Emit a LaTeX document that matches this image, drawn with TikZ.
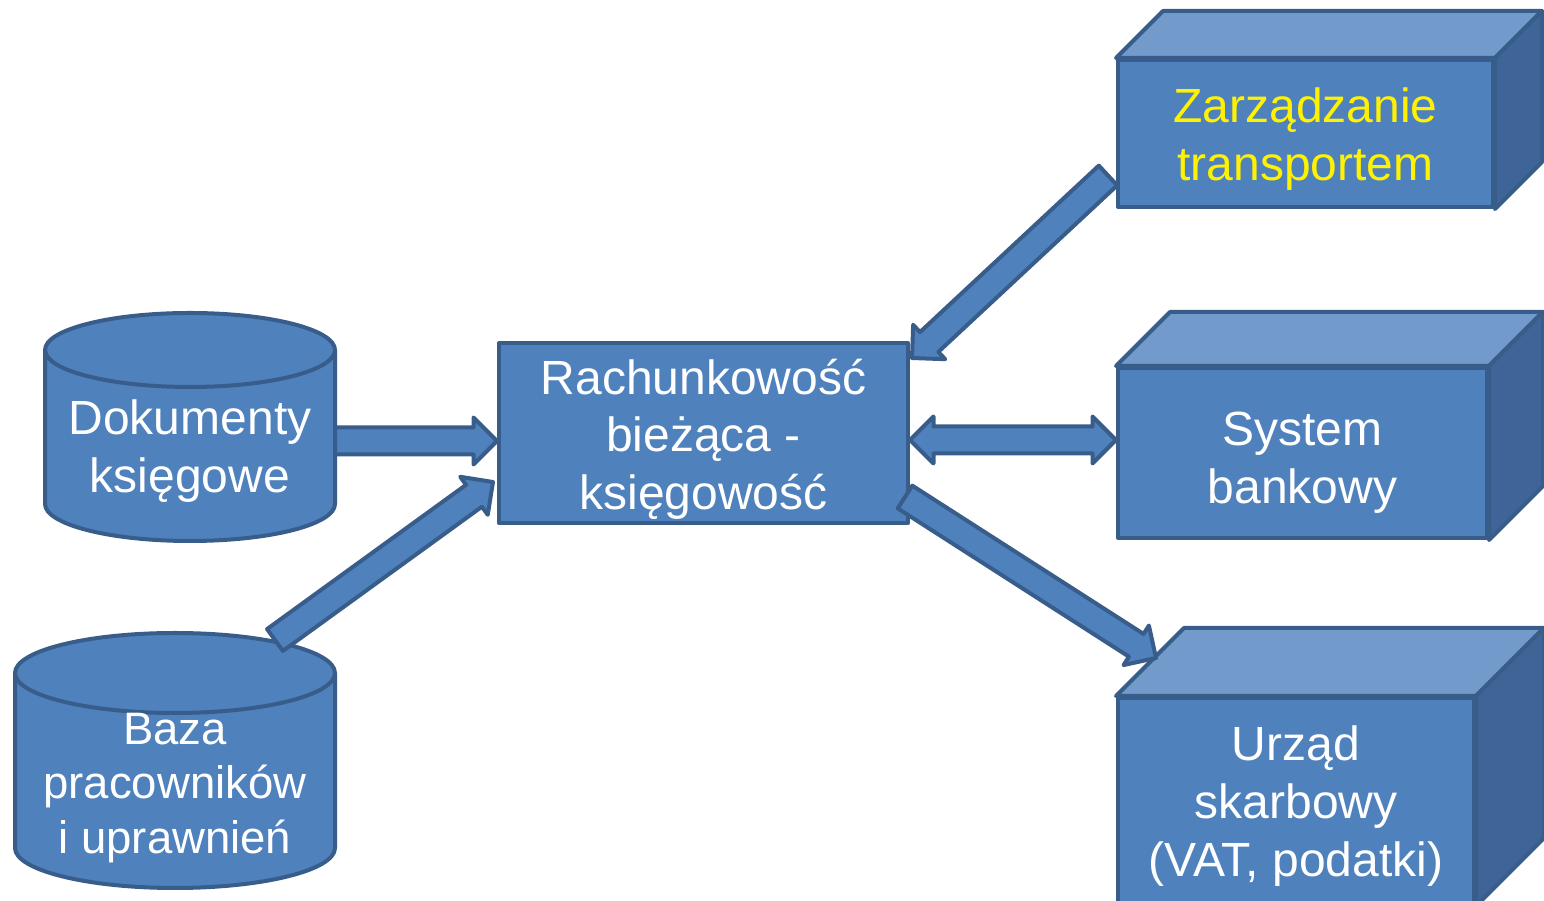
\documentclass[tikz,border=0pt]{standalone}
\usepackage{fontspec}
\setmainfont{Liberation Sans}
\usetikzlibrary{calc,shapes.arrows}

\definecolor{boxfill}{HTML}{4F81BD}
\definecolor{boxline}{HTML}{385D8A}
\definecolor{boxtop}{HTML}{729ACB}
\definecolor{boxside}{HTML}{3F6598}

\tikzset{
  outl/.style={draw=boxline, line width=4pt, line join=round},
  txt/.style={text=white, font=\fontsize{48}{57.6}\selectfont, align=center, inner sep=0pt},
  box/.style={outl, fill=boxfill, inner sep=0pt},
  blockarrow/.style={single arrow, outl, fill=boxfill, inner xsep=0pt, inner ysep=11.5pt,
    outer sep=0pt, minimum width=1pt, single arrow head extend=10pt, single arrow tip angle=90},
  twowayarrow/.style={double arrow, outl, fill=boxfill, inner xsep=0pt, inner ysep=11.5pt,
    outer sep=0pt, minimum width=1pt, double arrow head extend=10pt, double arrow tip angle=90}
}

% block arrow from #1 (tail) to #2 (tip)
\newcommand\blockarrow[2]{%
  \path let \p1=(#1), \p2=(#2), \n1={atan2(\y2-\y1,\x2-\x1)}, \n2={veclen(\x2-\x1,\y2-\y1)} in
    node[blockarrow, anchor=tail, rotate=\n1, minimum height=\n2] at (\p1) {};}
% block arrow with heads at both ends
\newcommand\twowayarrow[2]{%
  \path let \p1=(#1), \p2=(#2), \n1={atan2(\y2-\y1,\x2-\x1)}, \n2={veclen(\x2-\x1,\y2-\y1)} in
    node[twowayarrow, rotate=\n1, minimum height=\n2] at ($(\p1)!0.5!(\p2)$) {};}

\begin{document}
\begin{tikzpicture}[x=1pt, y=1pt]
\useasboundingbox (0,0) rectangle (1544,901);

% databases
\draw[outl, fill=boxfill] (45,551) -- (45,397) arc[start angle=180, end angle=360, x radius=145pt, y radius=37pt]
  -- (335,551) arc[start angle=0, end angle=180, x radius=145pt, y radius=37pt] -- cycle;
\draw[outl] (45,551) arc[start angle=180, end angle=360, x radius=145pt, y radius=37pt];
\node[txt, minimum width=290pt] (dok) at (190,450) {Dokumenty\\księgowe};

\draw[outl, fill=boxfill] (15,228) -- (15,53) arc[start angle=180, end angle=360, x radius=160pt, y radius=40pt]
  -- (335,228) arc[start angle=0, end angle=180, x radius=160pt, y radius=40pt] -- cycle;
\draw[outl] (15,228) arc[start angle=180, end angle=360, x radius=160pt, y radius=40pt];
\node[txt, font=\fontsize{45.5}{54.6}\selectfont, minimum width=320pt] (baza) at (175,113) {Baza\\pracowników\\i uprawnień};
\coordinate (bazatop) at (275,261);

% centre
\node[box, minimum width=409pt, minimum height=180pt,
  label={[txt, yshift=-6pt]center:{Rachunkowość\\bieżąca -\\księgowość}}] (rach) at (703.5,468) {};

% external systems (boxes)
\node[box, minimum width=375pt, minimum height=147pt,
  label={[txt, text=yellow, yshift=-5.5pt]center:{Zarządzanie\\transportem}}] (zarz) at (1305.5,767.5) {};
\node[box, minimum width=369pt, minimum height=170pt,
  label={[txt, yshift=-10pt]center:{System\\bankowy}}] (sys) at (1302.5,448) {};
\node[box, minimum width=356pt, minimum height=206pt,
  label={[txt, yshift=-5pt]center:{Urząd\\skarbowy\\(VAT, podatki)}}] (urz) at (1296,100) {};
\foreach \c/\d in {zarz/47, sys/54, urz/68} {
  \draw[outl, fill=boxtop] (\c.north west) -- ++(\d,\d) -- ([shift={(\d pt,\d pt)}]\c.north east) -- (\c.north east) -- cycle;
  \draw[outl, fill=boxside] (\c.north east) -- ++(\d,\d) -- ([shift={(\d pt,\d pt)}]\c.south east) -- (\c.south east) -- cycle;
}

% arrows
\blockarrow{[yshift=10pt]dok.east}{[yshift=-8pt]rach.west}
\blockarrow{bazatop}{[shift={(-4pt,-49pt)}]rach.west}
\blockarrow{[shift={(-8pt,-42pt)}]zarz.west}{[shift={(2pt,-17pt)}]rach.north east}
\twowayarrow{[yshift=-7pt]rach.east}{$(rach.east -| sys.west)+(0,-7)$}
\blockarrow{[shift={(-5pt,28pt)}]rach.south east}{[shift={(40pt,38pt)}]urz.north west}
\end{tikzpicture}
\end{document}
